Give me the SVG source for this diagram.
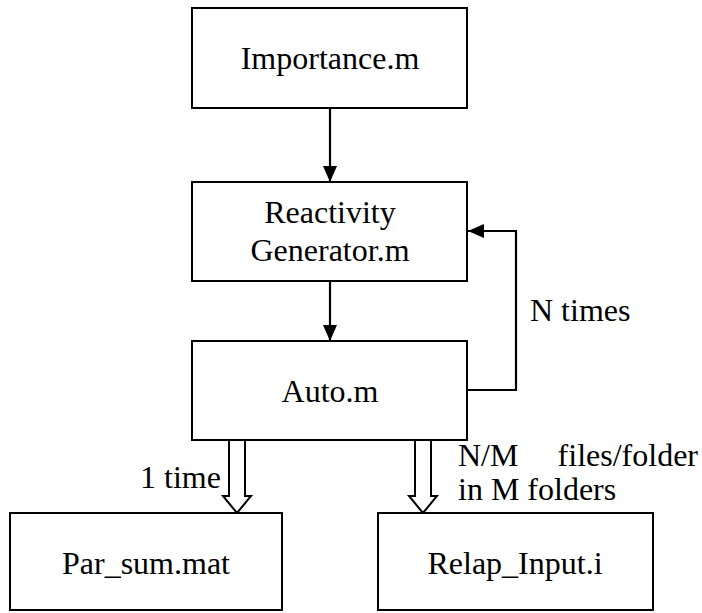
<svg xmlns="http://www.w3.org/2000/svg" width="702" height="613" viewBox="0 0 702 613">
  <style>
    .box { fill: #ffffff; stroke: #000000; stroke-width: 2; }
    text { font-family: "Liberation Serif", "Times New Roman", serif; font-size: 32px; fill: #000000; }
    .mid { text-anchor: middle; }
    .wire { fill: none; stroke: #000000; stroke-width: 2.2; }
    .hollow { fill: #ffffff; stroke: #000000; stroke-width: 2; stroke-linejoin: miter; }
  </style>
  <defs>
    <marker id="head" viewBox="0 0 16 14" refX="16" refY="7" markerWidth="16" markerHeight="14" markerUnits="userSpaceOnUse" orient="auto">
      <path d="M0,0 L16,7 L0,14 Z" fill="#000000"/>
    </marker>
  </defs>

  <rect width="702" height="613" fill="#ffffff"/>

  <!-- connectors -->
  <g id="connectors">
    <line class="wire" x1="330" y1="108" x2="330" y2="182" marker-end="url(#head)"/>
    <line class="wire" x1="330" y1="281" x2="330" y2="341" marker-end="url(#head)"/>
    <polyline class="wire" points="467,390 516,390 516,231 468,231" marker-end="url(#head)"/>
    <!-- hollow block arrows out of Auto.m -->
    <path class="hollow" d="M229,440 L229,496 L223,496 L237,513 L251,496 L245,496 L245,440"/>
    <path class="hollow" d="M415,440 L415,496 L409,496 L423,513 L437,496 L431,496 L431,440"/>
  </g>

  <g id="importance">
    <rect class="box" x="192" y="8" width="275" height="100"/>
    <text class="mid" x="330" y="69">Importance.m</text>
  </g>

  <g id="reactivity">
    <rect class="box" x="192" y="182" width="275" height="99"/>
    <text class="mid" x="330" y="223">Reactivity</text>
    <text class="mid" x="330" y="261">Generator.m</text>
  </g>

  <g id="auto">
    <rect class="box" x="192" y="341" width="275" height="99"/>
    <text class="mid" x="330" y="402">Auto.m</text>
  </g>

  <g id="parsum">
    <rect class="box" x="10" y="513" width="272" height="97"/>
    <text class="mid" x="146" y="574">Par_sum.mat</text>
  </g>

  <g id="relap">
    <rect class="box" x="378" y="513" width="275" height="97"/>
    <text class="mid" x="515" y="574">Relap_Input.i</text>
  </g>

  <!-- edge labels -->
  <g id="labels">
    <text x="530" y="321">N times</text>
    <text x="140" y="488">1 time</text>
    <text x="458" y="466">N/M</text>
    <text x="698" y="466" text-anchor="end">files/folder</text>
    <text x="458" y="500">in M folders</text>
  </g>
</svg>
